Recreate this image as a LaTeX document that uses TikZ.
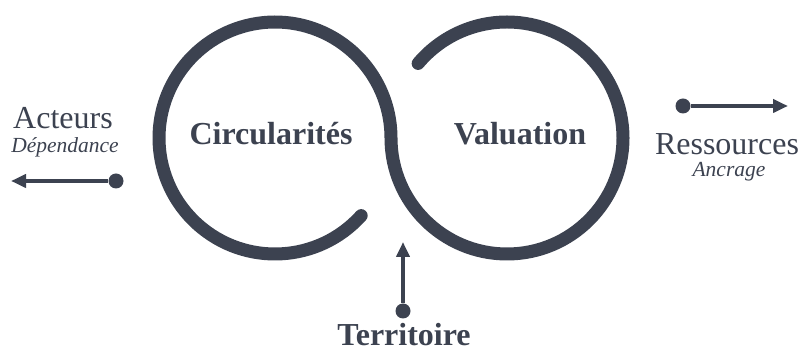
\documentclass[tikz,border=0pt]{standalone}
\usepackage{fontspec}
\setmainfont{Liberation Serif}
\newfontfamily\tnr{Liberation Serif}
\usetikzlibrary{arrows.meta,calc}
\definecolor{slate}{HTML}{3C4250}
\begin{document}
\begin{tikzpicture}[x=1pt,y=-1pt,
  loopline/.style={draw=slate,line width=13pt,line cap=round},
  arr/.style={draw=slate,line width=4pt,-{Triangle[length=15pt,width=13pt]}},
  dotnode/.style={circle,fill=slate,inner sep=0pt,minimum size=15pt},
  big/.style={font=\tnr\fontsize{32}{36}\selectfont,text=slate,anchor=base,inner sep=0pt},
  bigb/.style={font=\tnr\fontsize{32}{36}\selectfont\bfseries,text=slate,anchor=base,inner sep=0pt},
  small/.style={font=\tnr\fontsize{21.5}{24}\selectfont\itshape,text=slate,anchor=base,inner sep=0pt}]
\useasboundingbox (0,0) rectangle (801,352);
\fill[white] (0,0) rectangle (801,352);
% infinity loop
\draw[loopline] ($(275,138)+(42:116)$) arc[start angle=42,end angle=360,radius=116]
  arc[start angle=180,end angle=-140,radius=116];
% texts
\node[bigb] (circ) at (271,145) {Circularités};
\node[bigb] (val) at (520,145) {Valuation};
\node[big] (act) at (63,129) {Acteurs};
\node[small] (dep) at (65,153) {Dépendance};
\node[big] (res) at (727,155) {Ressources};
\node[small] (anc) at (729,177) {Ancrage};
\node[bigb] (ter) at (404,346) {Territoire};
% arrows
\node[dotnode] (ld) at (116,181) {};
\coordinate (lt) at (11,181);
\draw[arr] (ld) -- (lt);
\node[dotnode] (rd) at (683,106) {};
\coordinate (rt) at (788,106);
\draw[arr] (rd) -- (rt);
\node[dotnode] (bd) at (403,311) {};
\coordinate (bt) at (403,242);
\draw[arr] (bd) -- (bt);
\end{tikzpicture}
\end{document}
